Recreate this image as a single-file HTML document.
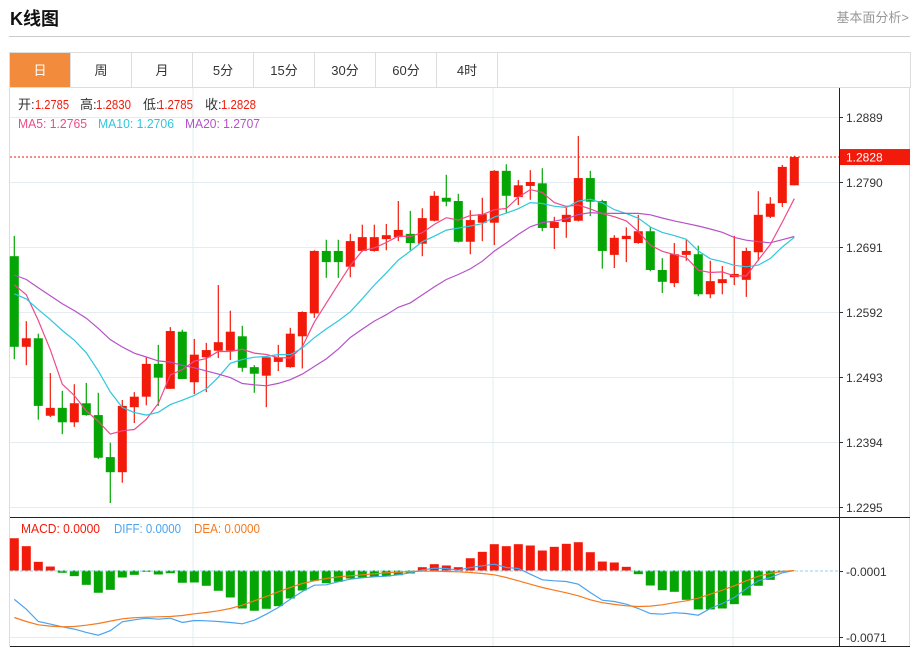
<!DOCTYPE html>
<html><head><meta charset="utf-8"><style>
body{margin:0;width:918px;height:648px;background:#fff;overflow:hidden;font-family:"Liberation Sans","Noto Sans CJK SC",sans-serif;position:relative}
.title{position:absolute;left:10px;top:5px;font-size:18px;font-weight:bold;color:#111}
.more{position:absolute;right:9px;top:7px;font-size:13px;color:#999}
.hr{position:absolute;left:9px;top:36px;width:901px;height:1px;background:#ccc}
.tabs{position:absolute;left:9px;top:52px;width:900px;height:35px;border:1px solid #ddd;border-bottom:none;display:flex}
.tab{width:60px;border-right:1px solid #ddd;text-align:center;line-height:35px;font-size:13px;color:#333}
.tab.on{background:#f28c3c;color:#fff}
</style></head><body>
<div class="title">K线图</div>
<div class="more">基本面分析&gt;</div>
<div class="hr"></div>
<div class="tabs">
<div class="tab on">日</div>
<div class="tab">周</div>
<div class="tab">月</div>
<div class="tab">5分</div>
<div class="tab">15分</div>
<div class="tab">30分</div>
<div class="tab">60分</div>
<div class="tab">4时</div>
</div>
<svg id="c" width="918" height="648" style="position:absolute;left:0;top:0"></svg>
<script>
const opens=[1.2677,1.2539,1.2552,1.2434,1.2446,1.2424,1.2453,1.2435,1.2371,1.2348,1.2447,1.2463,1.2513,1.2475,1.2562,1.2485,1.2523,1.2533,1.2533,1.2555,1.2508,1.2495,1.2516,1.2508,1.2555,1.2590,1.2685,1.2685,1.2661,1.2685,1.2685,1.2703,1.2706,1.2711,1.2696,1.2731,1.2766,1.2761,1.2699,1.2728,1.2728,1.2807,1.2767,1.2784,1.2788,1.2720,1.2729,1.2731,1.2796,1.2761,1.2679,1.2703,1.2697,1.2715,1.2656,1.2636,1.2679,1.2680,1.2619,1.2636,1.2645,1.2641,1.2683,1.2737,1.2758,1.2785];
const highs=[1.2708,1.2578,1.2559,1.2499,1.2472,1.2482,1.2484,1.2469,1.2393,1.2458,1.2470,1.2523,1.2542,1.2569,1.2565,1.2551,1.2545,1.2633,1.2594,1.2571,1.2511,1.2523,1.2542,1.2568,1.2593,1.2686,1.2702,1.2702,1.2711,1.2725,1.2725,1.2726,1.2761,1.2746,1.2750,1.2776,1.2801,1.2772,1.2747,1.2766,1.2808,1.2817,1.2793,1.2808,1.2811,1.2737,1.2752,1.2860,1.2807,1.2763,1.2709,1.2721,1.2740,1.2721,1.2674,1.2697,1.2702,1.2693,1.2670,1.2662,1.2708,1.2690,1.2776,1.2767,1.2816,1.2830];
const lows=[1.2520,1.2511,1.2428,1.2432,1.2406,1.2417,1.2434,1.2368,1.2301,1.2332,1.2423,1.2450,1.2449,1.2475,1.2490,1.2467,1.2470,1.2522,1.2519,1.2501,1.2469,1.2447,1.2502,1.2507,1.2506,1.2583,1.2644,1.2644,1.2645,1.2684,1.2684,1.2686,1.2700,1.2686,1.2677,1.2730,1.2753,1.2698,1.2680,1.2700,1.2694,1.2743,1.2755,1.2763,1.2715,1.2688,1.2705,1.2730,1.2738,1.2658,1.2659,1.2668,1.2696,1.2654,1.2621,1.2630,1.2670,1.2616,1.2613,1.2619,1.2633,1.2615,1.2670,1.2735,1.2752,1.2785];
const closes=[1.2539,1.2552,1.2449,1.2446,1.2424,1.2453,1.2435,1.2370,1.2348,1.2449,1.2463,1.2513,1.2492,1.2563,1.2490,1.2527,1.2534,1.2546,1.2562,1.2507,1.2498,1.2523,1.2523,1.2559,1.2592,1.2685,1.2668,1.2668,1.2700,1.2706,1.2706,1.2709,1.2717,1.2697,1.2735,1.2769,1.2760,1.2699,1.2732,1.2741,1.2807,1.2769,1.2785,1.2790,1.2720,1.2729,1.2740,1.2796,1.2760,1.2685,1.2705,1.2708,1.2715,1.2656,1.2638,1.2680,1.2685,1.2619,1.2639,1.2642,1.2650,1.2685,1.2740,1.2757,1.2813,1.2828];
const prevCloses=[1.2690,1.2702,1.2685,1.2671,1.2660,1.2668,1.2681,1.2690,1.2672,1.2651,1.2630,1.2612,1.2598,1.2590,1.2600,1.2628,1.2645,1.2668,1.2687];
const priceTicks=["1.2889","1.2790","1.2691","1.2592","1.2493","1.2394","1.2295"];
const macdHist=[34.2,25.8,9.2,4.2,-2.4,-6.0,-15.2,-23.6,-20.5,-7.4,-4.6,-1.4,-4.2,-2.9,-13.0,-12.7,-16.2,-21.5,-28.6,-40.3,-42.7,-40.6,-37.8,-29.7,-21.2,-10.9,-13.5,-12.0,-8.5,-7.4,-6.7,-6.4,-5.0,-3.2,3.5,6.7,5.3,3.5,13.0,19.8,27.9,25.8,27.9,26.5,21.2,25.1,28.3,30.0,19.4,9.5,8.5,3.9,-3.9,-15.9,-20.9,-22.6,-31.1,-41.3,-41.3,-40.3,-35.7,-26.5,-16.2,-9.9,-1.1,0];
const diffLine=[-30.7,-41.0,-54.1,-56.9,-59.7,-62.2,-65.7,-68.6,-63.9,-54.4,-52.3,-50.6,-51.6,-50.6,-55.1,-53.0,-53.3,-54.1,-55.1,-56.5,-52.7,-46.3,-39.2,-30.4,-22.3,-15.6,-15.2,-12.0,-9.2,-7.7,-6.7,-6.0,-4.6,-2.4,0.5,2.4,2.1,0.3,3.2,5.0,6.7,3.2,2.1,-3.9,-9.9,-10.9,-11.7,-14.5,-23.3,-31.5,-32.9,-35.7,-40.3,-45.6,-46.3,-44.8,-45.6,-47.4,-40.3,-35.0,-28.6,-19.4,-10.9,-7.4,-2.4,0];
const deaLine=[-49.8,-54.1,-57.6,-59.0,-59.7,-59.4,-58.0,-56.2,-53.7,-51.2,-50.1,-49.5,-49.1,-48.8,-47.7,-45.9,-44.5,-42.7,-40.3,-36.8,-32.1,-27.6,-22.6,-18.0,-13.8,-10.9,-8.5,-6.7,-5.6,-4.6,-3.5,-2.4,-1.8,-1.1,-0.7,-0.7,-1.1,-1.4,-2.1,-3.2,-4.6,-7.4,-10.9,-14.5,-18.0,-20.9,-23.6,-26.8,-31.1,-34.2,-36.0,-37.4,-38.2,-37.8,-36.4,-34.2,-32.1,-29.4,-25.1,-20.9,-16.2,-10.9,-6.0,-3.2,-1.1,0];
const macdTicks=[-1,-71];

const svg=document.getElementById('c');const NS='http://www.w3.org/2000/svg';
function mk(t,a,p){const e=document.createElementNS(NS,t);for(const k in a)e.setAttribute(k,a[k]);(p||svg).appendChild(e);return e;}
const xOf=i=>14.3+i*12;
const yP=p=>117+(1.2889-p)/0.0099*65;
const yM=v=>570.5-v*66/70;
const RED='#f21a0a',GREEN='#04a504';
let e;
e=mk('rect',{x:9.5,y:87.5,width:900,height:559,fill:'none',stroke:'#ddd'});


[193,493,733].forEach(x=>{e=mk('line',{x1:x,y1:88,x2:x,y2:646,stroke:'#e3ecf2'});

});
priceTicks.forEach(t=>{const y=Math.round(yP(+t))+0.5;
e=mk('line',{x1:10,y1:y,x2:839,y2:y,stroke:'#e3ecf2'});


e=mk('line',{x1:839,y1:y,x2:843,y2:y,stroke:'#333'});


e=mk('text',{x:846,y:y+4.5,'font-size':12,fill:'#333'});e.textContent=t;

});
macdTicks.forEach(v=>{const y=Math.round(yM(v))+0.5;
if(v!==-1){e=mk('line',{x1:10,y1:y,x2:839,y2:y,stroke:'#e3ecf2'});

}
e=mk('line',{x1:839,y1:y,x2:843,y2:y,stroke:'#333'});


e=mk('text',{x:846,y:y+4.5,'font-size':12,fill:'#333'});e.textContent=(v/10000).toFixed(4);

});
e=mk('line',{x1:839.5,y1:88,x2:839.5,y2:647,stroke:'#222'});


e=mk('line',{x1:10,y1:517.5,x2:910,y2:517.5,stroke:'#222'});


e=mk('line',{x1:10,y1:646.5,x2:910,y2:646.5,stroke:'#222'});


const N=closes.length;
for(let i=0;i<N;i++){const up=closes[i]>=opens[i];const col=up?RED:GREEN;const x=xOf(i);
const g=mk('g',{});


mk('line',{x1:x,y1:yP(highs[i]),x2:x,y2:yP(lows[i]),stroke:col,'stroke-width':1.2},g);
const t=yP(Math.max(opens[i],closes[i])),b=yP(Math.min(opens[i],closes[i]));
mk('rect',{x:x-4.5,y:t,width:9,height:Math.max(1.5,b-t),fill:col},g);}
const all=prevCloses.concat(closes);
function ma(n){return closes.map((c,i)=>{const j=i+prevCloses.length;let s=0;for(let k=j-n+1;k<=j;k++)s+=all[k];return s/n;});}
[[5,'#ee4a8a','ma5-line'],[10,'#2fc7dd','ma10-line'],[20,'#b552c8','ma20-line']].forEach(([n,c,nm])=>{
const m=ma(n);e=mk('polyline',{points:m.map((v,i)=>xOf(i)+','+yP(v).toFixed(1)).join(' '),fill:'none',stroke:c,'stroke-width':1.2});

});
const lp=closes[N-1],ly=yP(lp);
e=mk('line',{x1:10,y1:ly,x2:839,y2:ly,stroke:RED,'stroke-dasharray':'2,2'});


e=mk('rect',{x:840,y:ly-8,width:70,height:16,fill:RED});


e=mk('text',{x:846,y:ly+4.5,'font-size':12,fill:'#fff'});e.textContent=lp.toFixed(4);


const z=yM(0);
for(let i=0;i<N;i++){const v=macdHist[i];if(v===0)continue;const y=yM(v);
e=mk('rect',{x:xOf(i)-4.5,y:Math.min(y,z),width:9,height:Math.abs(y-z),fill:v>0?RED:GREEN});

}
e=mk('line',{x1:10,y1:z+0.5,x2:839,y2:z+0.5,stroke:'#8fd0ef','stroke-dasharray':'3,2'});


e=mk('polyline',{points:diffLine.map((v,i)=>xOf(i)+','+yM(v).toFixed(1)).join(' '),fill:'none',stroke:'#4aa3f0','stroke-width':1.2});


e=mk('polyline',{points:deaLine.map((v,i)=>xOf(i)+','+yM(v).toFixed(1)).join(' '),fill:'none',stroke:'#f57a1f','stroke-width':1.2});


function txt(x,y,s,c,nm,w){const a={x:x,y:y,'font-size':13,fill:c};if(w){a.textLength=w;a.lengthAdjust='spacingAndGlyphs';}
const t=mk('text',a);t.textContent=s;

return t;}
const f=v=>v.toFixed(4);
txt(18,109,'开:','#333','open-label');txt(35,109,f(opens[N-1]),RED,'open-value',34);
txt(80,109,'高:','#333','high-label');txt(96,109,f(highs[N-1]),RED,'high-value',35);
txt(143,109,'低:','#333','low-label');txt(158,109,f(lows[N-1]),RED,'low-value',35);
txt(205,109,'收:','#333','close-label');txt(221,109,f(closes[N-1]),RED,'close-value',35);
const m5=ma(5),m10=ma(10),m20=ma(20);
txt(18,128,'MA5: '+f(m5[N-1]),'#ee4a8a','ma5-legend',69);
txt(98,128,'MA10: '+f(m10[N-1]),'#2fc7dd','ma10-legend',76);
txt(185,128,'MA20: '+f(m20[N-1]),'#b552c8','ma20-legend',75);
txt(21,533,'MACD: 0.0000',RED,'macd-legend',79);
txt(114,533,'DIFF: 0.0000','#4aa3f0','diff-legend',67);
txt(194,533,'DEA: 0.0000','#f57a1f','dea-legend',66);
</script>
</body></html>
